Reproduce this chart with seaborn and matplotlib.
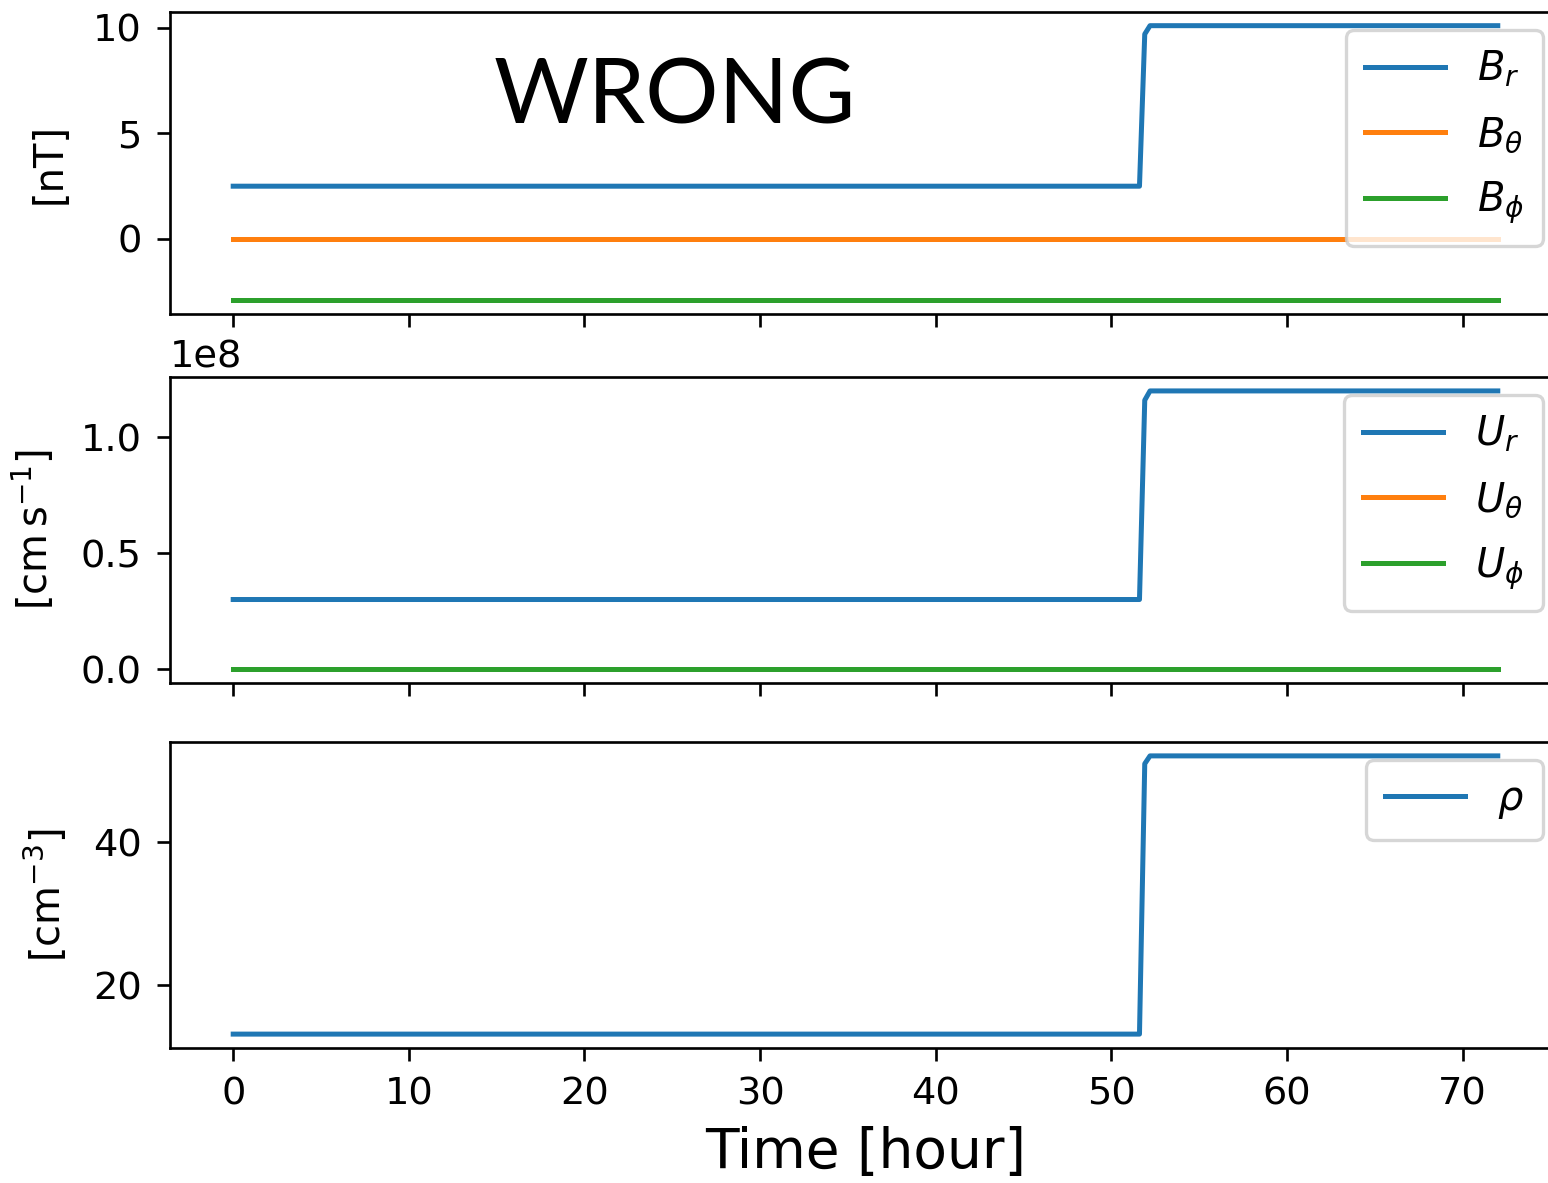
import matplotlib
matplotlib.use('Agg')
import matplotlib.pyplot as plt
import seaborn as sns

# time axis in hours (shock arrives around t ~ 51.6 h)
time = [0, 51.6, 51.9, 52.2, 72]

# magnetic field [nT]
B_r = [2.5, 2.5, 9.7, 10.1, 10.1]
B_theta = [0, 0, 0, 0, 0]
B_phi = [-2.9, -2.9, -2.9, -2.9, -2.9]

# velocity [cm/s]
U_r = [3.0e7, 3.0e7, 1.16e8, 1.2e8, 1.2e8]
U_theta = [0, 0, 0, 0, 0]
U_phi = [0, 0, 0, 0, 0]

# density [cm^-3]
rho = [13.2, 13.2, 51.0, 52.1, 52.1]

plt.rcParams['xtick.labelsize'] = 11.5
plt.rcParams['ytick.labelsize'] = 11.5
plt.rcParams['xtick.major.size'] = 4
plt.rcParams['ytick.major.size'] = 4
plt.rcParams['xtick.major.pad'] = 4.5
plt.rcParams['ytick.major.pad'] = 4.5

colors = sns.color_palette('tab10', 3)

fig, axes = plt.subplots(3, 1, sharex=True, figsize=(1548 / 240, 1183 / 240))

panels = [
    ([B_r, B_theta, B_phi], [r'$B_r$', r'$B_\theta$', r'$B_\phi$'], '[nT]'),
    ([U_r, U_theta, U_phi], [r'$U_r$', r'$U_\theta$', r'$U_\phi$'], r'[$\mathrm{cm\,s^{-1}}$]'),
    ([rho], [r'$\rho$'], r'[$\mathrm{cm^{-3}}$]'),
]

for ax, (series, labels, ylab) in zip(axes, panels):
    for vals, lab, c in zip(series, labels, colors):
        sns.lineplot(x=time, y=vals, ax=ax, color=c, label=lab, linewidth=1.5)
    ax.legend(loc='upper right', fontsize=12, labelspacing=0.63,
              borderpad=0.48, borderaxespad=0.45)
    ax.set_ylabel(ylab, fontsize=12, labelpad=7)

axes[2].set_xlabel('Time [hour]', fontsize=16.5)

# layout: right spine sits just outside the canvas
axes[0].set_position([0.1098, 0.7346, 0.8986, 0.2553])
axes[1].set_position([0.1098, 0.4227, 0.8986, 0.2586])
axes[2].set_position([0.1098, 0.1141, 0.8986, 0.2587])

fig.text(0.436, 0.917, 'WRONG', family='Lato', fontsize=27.5, ha='center', va='center')

fig.savefig('out.png', dpi=240)
